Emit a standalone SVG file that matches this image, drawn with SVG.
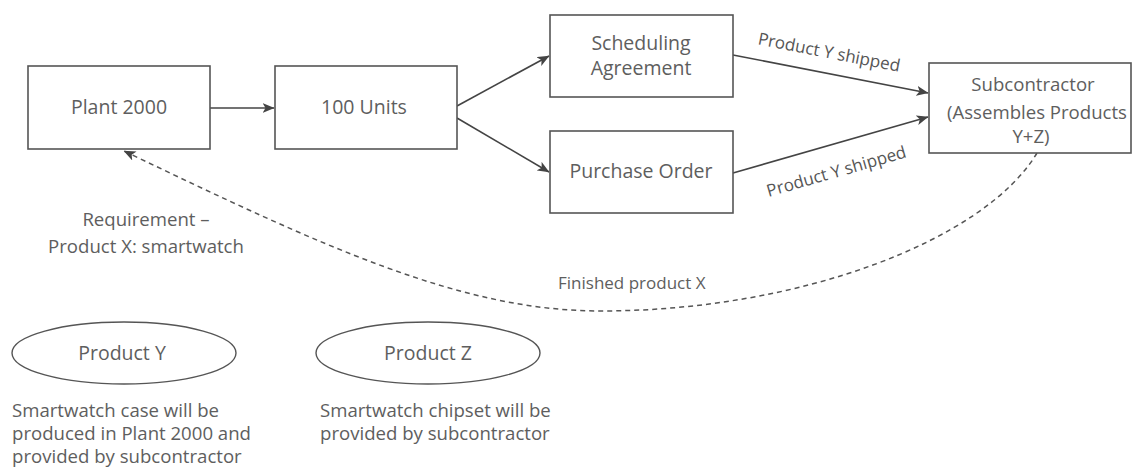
<svg xmlns="http://www.w3.org/2000/svg" width="1134" height="474" viewBox="0 0 1134 474">
<style>
.box{fill:#fff;stroke:#555;stroke-width:1.6}
.ell{fill:#fff;stroke:#555;stroke-width:1.4}
.t{font-family:"Open Sans","Noto Sans","Liberation Sans",sans-serif;font-size:18.6px;fill:#5e5e5e}
.n{font-size:19.5px}
.m{text-anchor:middle}
.lbl{font-family:"Open Sans","Noto Sans","Liberation Sans",sans-serif;font-size:17px;fill:#555;text-anchor:middle}
.f{font-size:17px}
.c{fill:none;stroke:#444;stroke-width:1.6}
.d{fill:none;stroke:#555;stroke-width:1.5;stroke-dasharray:5 4}
</style>
<defs>
<marker id="ah" viewBox="0 0 12 10" refX="11.5" refY="5" markerWidth="12" markerHeight="10" markerUnits="userSpaceOnUse" orient="auto">
<path d="M0,0 L12,5 L0,10 L3,5 Z" fill="#444"/>
</marker>
</defs>
<rect width="1134" height="474" fill="#fff"/>
<g id="connectors">
<line class="c" x1="210" y1="108" x2="274" y2="108" marker-end="url(#ah)"/>
<line class="c" x1="457" y1="106" x2="549" y2="56" marker-end="url(#ah)"/>
<line class="c" x1="457" y1="118" x2="549" y2="172" marker-end="url(#ah)"/>
<line class="c" x1="733" y1="55" x2="928" y2="93" marker-end="url(#ah)"/>
<line class="c" x1="733" y1="173" x2="928" y2="117" marker-end="url(#ah)"/>
<path class="d" d="M1037,153 C985,240 800,311 600,311 C460,311 320,245 124,151" marker-end="url(#ah)"/>
<text class="lbl" transform="translate(828,58) rotate(11)">Product Y shipped</text>
<text class="lbl" transform="translate(838,177) rotate(-16)">Product Y shipped</text>
<text class="t f" x="558" y="289">Finished product X</text>
</g>
<g id="plant2000">
<rect class="box" x="28" y="66" width="182" height="83"/>
<text class="t n m" x="119" y="114">Plant 2000</text>
</g>
<g id="units100">
<rect class="box" x="275" y="66" width="182" height="83"/>
<text class="t n m" x="364" y="114">100 Units</text>
</g>
<g id="scheduling">
<rect class="box" x="550" y="15" width="183" height="82"/>
<text class="t n m" x="641" y="50">Scheduling</text>
<text class="t n m" x="641" y="75">Agreement</text>
</g>
<g id="purchaseorder">
<rect class="box" x="550" y="131" width="183" height="82"/>
<text class="t n m" x="641" y="178">Purchase Order</text>
</g>
<g id="subcontractor">
<rect class="box" x="929" y="63" width="202" height="90"/>
<text class="t m" x="1033" y="91">Subcontractor</text>
<text class="t m" x="1037" y="119">(Assembles Products</text>
<text class="t m" x="1031" y="143">Y+Z)</text>
</g>
<g id="requirement">
<text class="t m" x="146" y="226">Requirement –</text>
<text class="t m" x="146" y="253">Product X: smartwatch</text>
</g>
<g id="productY">
<ellipse class="ell" cx="124" cy="353" rx="112" ry="31"/>
<text class="t n m" x="122" y="360">Product Y</text>
<text class="t" x="12" y="417">Smartwatch case will be</text>
<text class="t" x="12" y="440">produced in Plant 2000 and</text>
<text class="t" x="12" y="463">provided by subcontractor</text>
</g>
<g id="productZ">
<ellipse class="ell" cx="428" cy="353" rx="112" ry="31"/>
<text class="t n m" x="428" y="360">Product Z</text>
<text class="t" x="320" y="417">Smartwatch chipset will be</text>
<text class="t" x="320" y="440">provided by subcontractor</text>
</g>
</svg>
